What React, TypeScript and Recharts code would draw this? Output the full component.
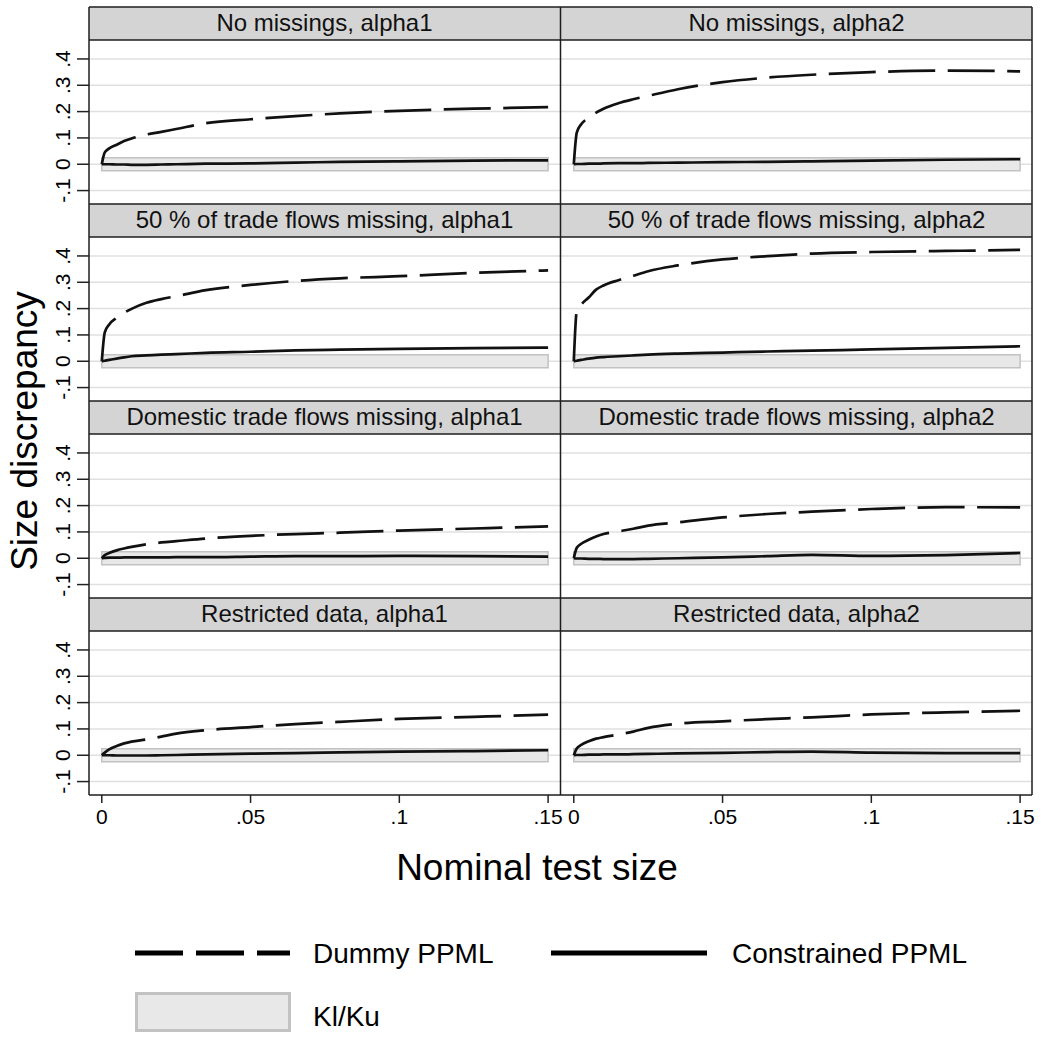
import { ComposedChart, Line, XAxis, YAxis, CartesianGrid, ReferenceArea } from "recharts";

const FONT = '"Liberation Sans", Arial, Helvetica, sans-serif';

// nominal test size grid shared by all panels
const X_GRID = [0, 0.001, 0.0025, 0.005, 0.0075, 0.01, 0.015, 0.02, 0.025, 0.035, 0.05, 0.065, 0.08, 0.1, 0.125, 0.15];

const X_TICKS = [0, 0.05, 0.1, 0.15];
const Y_TICKS = [-0.1, 0, 0.1, 0.2, 0.3, 0.4];
const X_DOMAIN = [-0.0043, 0.154];
const Y_DOMAIN = [-0.151, 0.472];

// Kl/Ku band
const BAND_X = [0, 0.15];
const BAND_Y = [-0.025, 0.025];

const PANEL_TITLES = [
  "No missings, alpha1",
  "No missings, alpha2",
  "50 % of trade flows missing, alpha1",
  "50 % of trade flows missing, alpha2",
  "Domestic trade flows missing, alpha1",
  "Domestic trade flows missing, alpha2",
  "Restricted data, alpha1",
  "Restricted data, alpha2",
];

const NOMISS_A1_DUMMY = [0, 0.045, 0.06, 0.074, 0.088, 0.098, 0.113, 0.123, 0.134, 0.156, 0.171, 0.183, 0.193, 0.203, 0.211, 0.217];
const NOMISS_A1_CONSTR = [0, 0, 0, -0.001, -0.001, -0.002, -0.002, -0.001, 0, 0.002, 0.003, 0.006, 0.009, 0.011, 0.014, 0.015];
const NOMISS_A2_DUMMY = [0, 0.12, 0.152, 0.176, 0.196, 0.211, 0.232, 0.247, 0.26, 0.285, 0.312, 0.329, 0.34, 0.35, 0.356, 0.353];
const NOMISS_A2_CONSTR = [0, 0.001, 0.001, 0.002, 0.002, 0.003, 0.004, 0.004, 0.005, 0.006, 0.008, 0.009, 0.011, 0.014, 0.017, 0.019];

const MISS50_A1_DUMMY = [0, 0.11, 0.14, 0.165, 0.184, 0.199, 0.222, 0.236, 0.247, 0.27, 0.29, 0.305, 0.315, 0.323, 0.336, 0.345];
const MISS50_A1_CONSTR = [0, 0.002, 0.005, 0.01, 0.015, 0.019, 0.022, 0.025, 0.027, 0.032, 0.036, 0.041, 0.044, 0.047, 0.05, 0.052];
const MISS50_A2_DUMMY = [0, 0.19, 0.215, 0.242, 0.272, 0.288, 0.308, 0.325, 0.342, 0.364, 0.387, 0.399, 0.409, 0.415, 0.419, 0.423];
const MISS50_A2_CONSTR = [0, 0.002, 0.005, 0.01, 0.014, 0.016, 0.019, 0.022, 0.025, 0.029, 0.033, 0.037, 0.04, 0.045, 0.051, 0.057];

const DOM_A1_DUMMY = [0, 0.012, 0.02, 0.03, 0.037, 0.043, 0.053, 0.06, 0.065, 0.075, 0.085, 0.092, 0.097, 0.105, 0.113, 0.121];
const DOM_A1_CONSTR = [0, 0.001, 0.002, 0.002, 0.003, 0.003, 0.003, 0.003, 0.004, 0.004, 0.006, 0.008, 0.008, 0.009, 0.008, 0.006];
const DOM_A2_DUMMY = [0, 0.04, 0.055, 0.07, 0.083, 0.092, 0.102, 0.112, 0.124, 0.136, 0.155, 0.168, 0.177, 0.187, 0.194, 0.193];
const DOM_A2_CONSTR = [0, -0.001, -0.001, -0.002, -0.002, -0.003, -0.003, -0.003, -0.002, 0, 0.003, 0.008, 0.013, 0.009, 0.012, 0.02];

const RESTR_A1_DUMMY = [0, 0.01, 0.022, 0.035, 0.045, 0.052, 0.06, 0.071, 0.082, 0.095, 0.107, 0.118, 0.127, 0.138, 0.146, 0.154];
const RESTR_A1_CONSTR = [0, 0, 0, -0.001, -0.001, -0.001, -0.001, 0, 0.001, 0.003, 0.006, 0.008, 0.011, 0.014, 0.016, 0.019];
const RESTR_A2_DUMMY = [0, 0.026, 0.039, 0.053, 0.063, 0.069, 0.079, 0.09, 0.104, 0.12, 0.129, 0.137, 0.144, 0.155, 0.163, 0.169];
const RESTR_A2_CONSTR = [0, 0.001, 0.001, 0.002, 0.002, 0.003, 0.003, 0.004, 0.005, 0.007, 0.009, 0.012, 0.014, 0.01, 0.008, 0.008];

const SERIES = [
  [NOMISS_A1_DUMMY, NOMISS_A1_CONSTR],
  [NOMISS_A2_DUMMY, NOMISS_A2_CONSTR],
  [MISS50_A1_DUMMY, MISS50_A1_CONSTR],
  [MISS50_A2_DUMMY, MISS50_A2_CONSTR],
  [DOM_A1_DUMMY, DOM_A1_CONSTR],
  [DOM_A2_DUMMY, DOM_A2_CONSTR],
  [RESTR_A1_DUMMY, RESTR_A1_CONSTR],
  [RESTR_A2_DUMMY, RESTR_A2_CONSTR],
];

// layout (page pixels)
const PLOT_W = 471;
const PLOT_H = 164;
const HEAD_H = 33;
const ROW_STEP = 197;
const COL_LEFT = [89, 561];
const TOP = 7;
const TICK_FONT = 21;

const fmt = (v: number) => (v === 0 ? "0" : String(v).replace("0.", "."));

function YTick(props: any) {
  const { x, y, payload } = props;
  return (
    <text
      x={x}
      y={y}
      transform={`rotate(-90 ${x} ${y})`}
      textAnchor="middle"
      fontSize={TICK_FONT}
      fontFamily={FONT}
      fill="#000"
    >
      {fmt(payload.value)}
    </text>
  );
}

function Panel({ idx }: { idx: number }) {
  const col = idx % 2;
  const row = Math.floor(idx / 2);
  const isLeft = col === 0;
  const isBottom = row === 3;
  const yW = isLeft ? 60 : 0;
  const xH = isBottom ? 44 : 0;
  const rightPad = isBottom ? 8 : 0;
  const w = PLOT_W + yW + rightPad;
  const h = PLOT_H + xH;
  const [dummy, constr] = SERIES[idx];
  const rows = X_GRID.map((x, i) => ({ x, dummy: dummy[i], constrained: constr[i] }));

  return (
    <div
      style={{
        position: "absolute",
        left: COL_LEFT[col] - yW,
        top: TOP + HEAD_H + row * ROW_STEP,
        width: w,
        height: h,
      }}
    >
      <ComposedChart width={w} height={h} data={rows} margin={{ top: 0, right: rightPad, bottom: 0, left: 0 }}>
        <CartesianGrid
          vertical={false}
          horizontalValues={Y_TICKS}
          stroke="#e0e0e0"
          strokeWidth={1.5}
        />
        <XAxis
          type="number"
          dataKey="x"
          domain={X_DOMAIN}
          ticks={X_TICKS}
          interval={0}
          allowDataOverflow
          hide={!isBottom}
          height={xH}
          axisLine={false}
          tickSize={8}
          tickMargin={6}
          tickLine={{ stroke: "#222", strokeWidth: 1.5 }}
          tick={{ fontSize: TICK_FONT, fill: "#000", fontFamily: FONT }}
          tickFormatter={fmt}
        />
        <YAxis
          type="number"
          domain={Y_DOMAIN}
          ticks={Y_TICKS}
          interval={0}
          allowDataOverflow
          hide={!isLeft}
          width={yW}
          axisLine={false}
          tickSize={12}
          tickMargin={7}
          tickLine={{ stroke: "#222", strokeWidth: 1.5 }}
          tick={<YTick />}
        />
        <ReferenceArea
          x1={BAND_X[0]}
          x2={BAND_X[1]}
          y1={BAND_Y[0]}
          y2={BAND_Y[1]}
          fill="#e8e8e8"
          fillOpacity={1}
          stroke="#c2c2c2"
          strokeWidth={1.5}
        />
        <Line
          type="monotone"
          dataKey="dummy"
          stroke="#111"
          strokeWidth={2.7}
          strokeDasharray="47 12.5"
          dot={false}
          activeDot={false}
          isAnimationActive={false}
        />
        <Line
          type="monotone"
          dataKey="constrained"
          stroke="#111"
          strokeWidth={2.7}
          dot={false}
          activeDot={false}
          isAnimationActive={false}
        />
      </ComposedChart>
    </div>
  );
}

function Frames() {
  const bottom = TOP + 4 * ROW_STEP;
  const lines: JSX.Element[] = [];
  for (let r = 0; r < 4; r++) {
    const y0 = TOP + r * ROW_STEP;
    lines.push(<line key={"t" + r} x1={89} x2={1032} y1={y0} y2={y0} />);
    lines.push(<line key={"h" + r} x1={89} x2={1032} y1={y0 + HEAD_H} y2={y0 + HEAD_H} />);
  }
  lines.push(<line key="b" x1={89} x2={1032} y1={bottom} y2={bottom} />);
  lines.push(<line key="l" x1={89} x2={89} y1={TOP} y2={bottom} />);
  lines.push(<line key="m" x1={560.5} x2={560.5} y1={TOP} y2={bottom} />);
  lines.push(<line key="r" x1={1032} x2={1032} y1={TOP} y2={bottom} />);
  return (
    <svg
      width={1041}
      height={1042}
      style={{ position: "absolute", left: 0, top: 0, pointerEvents: "none" }}
    >
      <g stroke="#1e1e1e" strokeWidth={1.5}>{lines}</g>
    </svg>
  );
}

function Headers() {
  return (
    <>
      {PANEL_TITLES.map((t, i) => {
        const col = i % 2;
        const row = Math.floor(i / 2);
        return (
          <div
            key={t}
            style={{
              position: "absolute",
              left: COL_LEFT[col],
              top: TOP + row * ROW_STEP,
              width: PLOT_W,
              height: HEAD_H,
              background: "#d4d4d4",
              lineHeight: HEAD_H - 2 + "px",
              textAlign: "center",
              fontSize: 24,
              fontFamily: FONT,
              color: "#111",
              whiteSpace: "nowrap",
            }}
          >
            {t}
          </div>
        );
      })}
    </>
  );
}

function Legend() {
  return (
    <svg width={1041} height={1042} style={{ position: "absolute", left: 0, top: 0 }}>
      <line x1={135} x2={290} y1={953} y2={953} stroke="#000" strokeWidth={5} strokeDasharray="48 13" />
      <text x={313} y={963} fontSize={28} fontFamily={FONT} fill="#000">Dummy PPML</text>
      <line x1={551} x2={707} y1={953} y2={953} stroke="#000" strokeWidth={5} />
      <text x={732} y={963} fontSize={28} fontFamily={FONT} fill="#000">Constrained PPML</text>
      <rect x={136.5} y={993.5} width={153} height={37} fill="#e8e8e8" stroke="#c2c2c2" strokeWidth={3} />
      <text x={313} y={1026} fontSize={28} fontFamily={FONT} fill="#000">Kl/Ku</text>
      <text x={537} y={880} fontSize={37} fontFamily={FONT} fill="#000" textAnchor="middle">Nominal test size</text>
      <text x={37} y={431} fontSize={37} fontFamily={FONT} fill="#000" textAnchor="middle" transform="rotate(-90 37 431)">Size discrepancy</text>
    </svg>
  );
}

export default function App() {
  return (
    <div style={{ position: "absolute", left: 0, top: 0, width: 1041, height: 1042, background: "#fff", overflow: "hidden" }}>
      <Legend />
      <Headers />
      {PANEL_TITLES.map((_, i) => (
        <Panel key={i} idx={i} />
      ))}
      <Frames />
    </div>
  );
}
